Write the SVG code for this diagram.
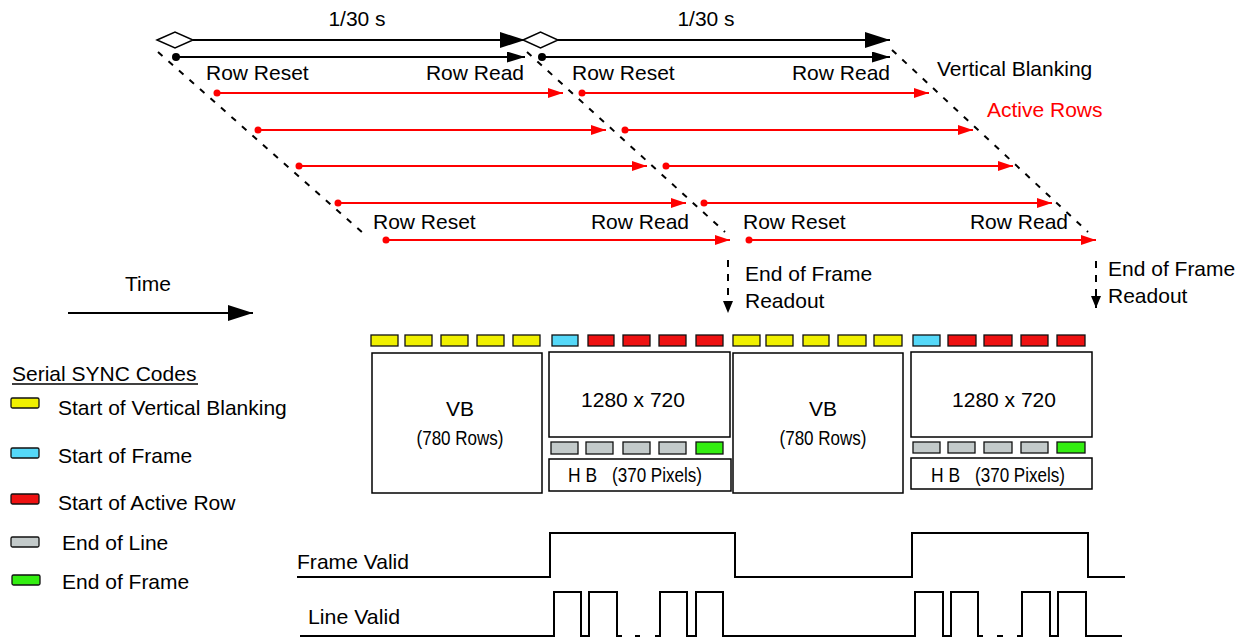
<svg xmlns="http://www.w3.org/2000/svg" width="1244" height="640" viewBox="0 0 1244 640">
<defs>
<style>
text{font-family:"Liberation Sans",Arial,Helvetica,sans-serif;font-size:21px;fill:#000}
.red{fill:#ff0000}
.mid{text-anchor:middle}
.end{text-anchor:end}
.rl{stroke:#ff0000;stroke-width:2;fill:none;marker-end:url(#ra)}
.bl{stroke:#000;stroke-width:2;fill:none}
.dash{stroke:#000;stroke-width:2;stroke-dasharray:6 8;fill:none}
.rd{fill:#ff0000}
.bd{fill:#000}
.box{fill:#fff;stroke:#000;stroke-width:1.5}
.sc{stroke:#111;stroke-width:1.3}
.y{fill:#f0f000}.c{fill:#55d8f8}.r{fill:#ee1111}.g{fill:#c3caca}.gr{fill:#33ee11}
.sig{stroke:#000;stroke-width:2;fill:none}
</style>
<marker id="ra" markerUnits="userSpaceOnUse" markerWidth="16" markerHeight="12" refX="15" refY="5" orient="auto"><path d="M0,0L15,5L0,10z" fill="#ff0000"/></marker>
<marker id="ba" markerUnits="userSpaceOnUse" markerWidth="26" markerHeight="18" refX="25" refY="8" orient="auto"><path d="M0,0L25,8L0,16z" fill="#000"/></marker>
<marker id="bs" markerUnits="userSpaceOnUse" markerWidth="19" markerHeight="13" refX="18" refY="5.5" orient="auto"><path d="M0,0L18,5.5L0,11z" fill="#000"/></marker>
<marker id="da" markerUnits="userSpaceOnUse" markerWidth="13" markerHeight="11" refX="12" refY="5" orient="auto"><path d="M0,0L12,5L0,10z" fill="#000"/></marker>
</defs>
<rect width="1244" height="640" fill="#fff"/>

<g id="connectors">
  <!-- top frame period arrows -->
  <line class="bl" x1="193" y1="40" x2="525" y2="40" marker-end="url(#ba)"/>
  <line class="bl" x1="558" y1="40" x2="890" y2="40" marker-end="url(#ba)"/>
  <line class="bl" x1="176" y1="57" x2="525" y2="57" marker-end="url(#bs)"/>
  <line class="bl" x1="542" y1="57" x2="890" y2="57" marker-end="url(#bs)"/>
  <polygon points="157,40 175,32 193,40 175,48" fill="#fff" stroke="#000" stroke-width="1.5"/>
  <polygon points="523,40 540.5,32 558,40 540.5,48" fill="#fff" stroke="#000" stroke-width="1.5"/>
  <circle class="bd" cx="176" cy="57" r="4"/>
  <circle class="bd" cx="542" cy="57" r="4"/>
  <!-- dashed diagonal boundaries -->
  <line class="dash" x1="158" y1="52" x2="364" y2="234"/>
  <line class="dash" x1="527" y1="52" x2="725" y2="232"/>
  <line class="dash" x1="892" y1="50" x2="1088" y2="232"/>
  <!-- frame 1 rows -->
  <line class="rl" x1="217" y1="93" x2="563" y2="93"/>
  <line class="rl" x1="258" y1="130" x2="606" y2="130"/>
  <line class="rl" x1="299" y1="166" x2="647" y2="166"/>
  <line class="rl" x1="338" y1="203" x2="686" y2="203"/>
  <line class="rl" x1="386" y1="240" x2="730" y2="240"/>
  <circle class="rd" cx="217" cy="93" r="3.5"/>
  <circle class="rd" cx="258" cy="130" r="3.5"/>
  <circle class="rd" cx="299" cy="166" r="3.5"/>
  <circle class="rd" cx="338" cy="203" r="3.5"/>
  <circle class="rd" cx="386" cy="240" r="3.5"/>
  <!-- frame 2 rows -->
  <line class="rl" x1="582" y1="93" x2="929" y2="93"/>
  <line class="rl" x1="625" y1="130" x2="973" y2="130"/>
  <line class="rl" x1="666" y1="166" x2="1013" y2="166"/>
  <line class="rl" x1="704" y1="203" x2="1052" y2="203"/>
  <line class="rl" x1="749" y1="240" x2="1096" y2="240"/>
  <circle class="rd" cx="582" cy="93" r="3.5"/>
  <circle class="rd" cx="625" cy="130" r="3.5"/>
  <circle class="rd" cx="666" cy="166" r="3.5"/>
  <circle class="rd" cx="704" cy="203" r="3.5"/>
  <circle class="rd" cx="749" cy="240" r="3.5"/>
  <!-- end of frame readout arrows -->
  <line x1="728" y1="260" x2="728" y2="313" stroke="#000" stroke-width="2" stroke-dasharray="7 7" marker-end="url(#da)"/>
  <line x1="1096" y1="261" x2="1096" y2="308" stroke="#000" stroke-width="2" stroke-dasharray="7 7" marker-end="url(#da)"/>
  <!-- time arrow -->
  <line class="bl" x1="68" y1="313" x2="253" y2="313" marker-end="url(#ba)"/>
</g>

<g id="timing-frame1">
  <text class="mid" x="357" y="26">1/30 s</text>
  <text x="206" y="80">Row Reset</text>
  <text class="end" x="524" y="80">Row Read</text>
  <text x="373" y="229">Row Reset</text>
  <text class="end" x="689" y="229">Row Read</text>
  <text x="745" y="281">End of Frame</text>
  <text x="745" y="308">Readout</text>
</g>

<g id="timing-frame2">
  <text class="mid" x="706" y="26">1/30 s</text>
  <text x="572" y="80">Row Reset</text>
  <text class="end" x="890" y="80">Row Read</text>
  <text x="937" y="76">Vertical Blanking</text>
  <text class="red" x="987" y="117">Active Rows</text>
  <text x="743" y="229">Row Reset</text>
  <text class="end" x="1068" y="229">Row Read</text>
  <text x="1108" y="276">End of Frame</text>
  <text x="1108" y="303">Readout</text>
</g>

<g id="time-label">
  <text class="mid" x="148" y="291">Time</text>
</g>

<g id="legend">
  <text x="12" y="381">Serial SYNC Codes</text>
  <line x1="12" y1="384" x2="198" y2="384" stroke="#000" stroke-width="1.5"/>
  <rect class="sc y" x="11" y="398" width="28" height="10" rx="1.5"/>
  <text x="58" y="415">Start of Vertical Blanking</text>
  <rect class="sc c" x="11" y="448" width="28" height="10" rx="1.5"/>
  <text x="58" y="463">Start of Frame</text>
  <rect class="sc r" x="11" y="494" width="28" height="10" rx="1.5"/>
  <text x="58" y="510">Start of Active Row</text>
  <rect class="sc g" x="11" y="537" width="28" height="10" rx="1.5"/>
  <text x="62" y="550">End of Line</text>
  <rect class="sc gr" x="12" y="575" width="28" height="10" rx="1.5"/>
  <text x="62" y="589">End of Frame</text>
</g>

<g id="frame1-blocks">
  <rect class="sc y" x="371" y="335" width="27" height="11"/>
  <rect class="sc y" x="405" y="335" width="27" height="11"/>
  <rect class="sc y" x="441" y="335" width="27" height="11"/>
  <rect class="sc y" x="477" y="335" width="27" height="11"/>
  <rect class="sc y" x="513" y="335" width="27" height="11"/>
  <rect class="sc c" x="552" y="335" width="26" height="11"/>
  <rect class="sc r" x="588" y="335" width="26" height="11"/>
  <rect class="sc r" x="623" y="335" width="27" height="11"/>
  <rect class="sc r" x="659" y="335" width="27" height="11"/>
  <rect class="sc r" x="696" y="335" width="27" height="11"/>
  <rect class="box" x="372" y="353" width="170" height="140"/>
  <text class="mid" x="460" y="416" font-size="20">VB</text>
  <text class="mid" x="460" y="445" font-size="20" textLength="87" lengthAdjust="spacingAndGlyphs">(780 Rows)</text>
  <rect class="box" x="549" y="352" width="181" height="85"/>
  <text class="mid" x="633" y="407">1280 x 720</text>
  <rect class="sc g" x="551" y="442" width="27" height="12"/>
  <rect class="sc g" x="586" y="442" width="27" height="12"/>
  <rect class="sc g" x="623" y="442" width="27" height="12"/>
  <rect class="sc g" x="659" y="442" width="27" height="12"/>
  <rect class="sc gr" x="696" y="442" width="27" height="12"/>
  <rect class="box" x="549" y="459" width="182" height="32"/>
  <text x="568" y="482" font-size="20" textLength="29" lengthAdjust="spacingAndGlyphs">H B</text>
  <text x="612" y="482" font-size="20" textLength="90" lengthAdjust="spacingAndGlyphs">(370 Pixels)</text>
</g>

<g id="frame2-blocks">
  <rect class="sc y" x="733" y="335" width="27" height="11"/>
  <rect class="sc y" x="766" y="335" width="27" height="11"/>
  <rect class="sc y" x="803" y="335" width="26" height="11"/>
  <rect class="sc y" x="838" y="335" width="28" height="11"/>
  <rect class="sc y" x="874" y="335" width="28" height="11"/>
  <rect class="sc c" x="913" y="335" width="27" height="11"/>
  <rect class="sc r" x="948" y="335" width="28" height="11"/>
  <rect class="sc r" x="984" y="335" width="28" height="11"/>
  <rect class="sc r" x="1021" y="335" width="27" height="11"/>
  <rect class="sc r" x="1057" y="335" width="28" height="11"/>
  <rect class="box" x="733" y="353" width="170" height="140"/>
  <text class="mid" x="823" y="416" font-size="20">VB</text>
  <text class="mid" x="823" y="445" font-size="20" textLength="87" lengthAdjust="spacingAndGlyphs">(780 Rows)</text>
  <rect class="box" x="911" y="352" width="181" height="85"/>
  <text class="mid" x="1004" y="407">1280 x 720</text>
  <rect class="sc g" x="913" y="442" width="27" height="11"/>
  <rect class="sc g" x="948" y="442" width="27" height="11"/>
  <rect class="sc g" x="984" y="442" width="28" height="11"/>
  <rect class="sc g" x="1021" y="442" width="27" height="11"/>
  <rect class="sc gr" x="1057" y="442" width="28" height="11"/>
  <rect class="box" x="911" y="458" width="181" height="31"/>
  <text x="931" y="482" font-size="20" textLength="29" lengthAdjust="spacingAndGlyphs">H B</text>
  <text x="975" y="482" font-size="20" textLength="90" lengthAdjust="spacingAndGlyphs">(370 Pixels)</text>
</g>

<g id="signals">
  <text x="297" y="569" font-size="20" textLength="112" lengthAdjust="spacingAndGlyphs">Frame Valid</text>
  <path class="sig" d="M297,577H550V533H735V577H912V533H1088V577H1125"/>
  <text x="308" y="624" font-size="20" textLength="92" lengthAdjust="spacingAndGlyphs">Line Valid</text>
  <path class="sig" d="M300,636H554V592H581V636H589V592H617V636H622"/>
  <path class="sig" d="M635,636H640"/>
  <path class="sig" d="M655,636H660V592H687V636H696V592H723V636H915V592H943V636H951V592H978V636H983"/>
  <path class="sig" d="M997,636H1003"/>
  <path class="sig" d="M1017,636H1022V592H1050V636H1058V592H1086V636H1122"/>
</g>
</svg>
